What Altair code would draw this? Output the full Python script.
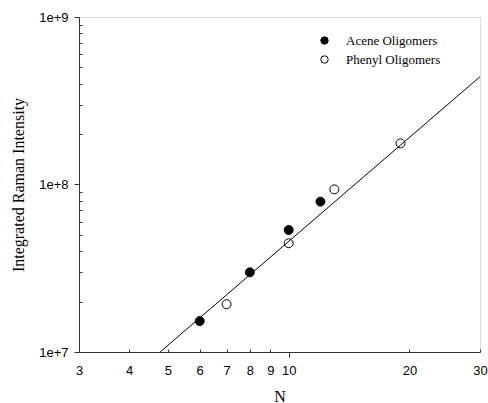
import altair as alt
import pandas as pd

# Data
acene_n = [6, 8, 10, 12]
acene_i = [1.53e7, 2.99e7, 5.35e7, 7.9e7]
phenyl_n = [7, 10, 13, 19]
phenyl_i = [1.93e7, 4.46e7, 9.35e7, 1.76e8]
fit_n = [4.78, 30]
fit_i = [1.0e7, 4.4e8]

series = ["Acene Oligomers", "Phenyl Oligomers"]
x_tick_values = [3, 4, 5, 6, 7, 8, 9, 10, 20, 30]
y_major_values = [1e7, 1e8, 1e9]
y_minor_values = [m * 10 ** e for e in (7, 8) for m in range(2, 10)]
y_tick_values = sorted(y_major_values + y_minor_values)

pts = pd.DataFrame({
    "N": acene_n + phenyl_n,
    "I": acene_i + phenyl_i,
    "series": [series[0]] * len(acene_n) + [series[1]] * len(phenyl_n),
})
fit = pd.DataFrame({"N": fit_n, "I": fit_i})

AX = "#333333"
PLOT_W, PLOT_H = 401, 335
xscale = alt.Scale(type="log", domain=[3, 30], nice=False)
yscale = alt.Scale(type="log", domain=[1e7, 1e9], nice=False)

is_major_y = "abs(log(datum.value) / LN10 - round(log(datum.value) / LN10)) < 1e-6"
is_major_x = "abs(datum.value - 10) < 1e-6"

# minor ticks pointing inward are drawn as short dashes of the grid lines
x_axis = alt.Axis(
    orient="bottom", values=x_tick_values, tickSize=5, tickWidth=1, title="N",
    labelExpr="format(datum.value, 'd')", labelFlush=False,
    tickOpacity={"condition": {"test": is_major_x, "value": 1}, "value": 0},
    grid=True, gridDash=[3, PLOT_H - 3], gridDashOffset=3, gridColor=AX, gridWidth=1,
    gridOpacity={"condition": {"test": is_major_x, "value": 0}, "value": 1},
    domainColor=AX, tickColor=AX, labelFont="Liberation Sans", labelFontSize=13,
    labelColor="black", labelPadding=7, titleFont="Liberation Serif",
    titleFontSize=16, titleFontWeight="normal", titleColor="black", titlePadding=11)

y_axis = alt.Axis(
    orient="left", values=y_tick_values, tickSize=5, tickWidth=1,
    title="Integrated Raman Intensity",
    labelExpr=f"({is_major_y}) ? '1e+' + round(log(datum.value) / LN10) : ''",
    tickOpacity={"condition": {"test": is_major_y, "value": 1}, "value": 0},
    grid=True, gridDash=[3, 1000], gridColor=AX, gridWidth=1,
    gridOpacity={"condition": {"test": is_major_y, "value": 0}, "value": 1},
    domainColor=AX, tickColor=AX, labelFont="Liberation Sans", labelFontSize=13,
    labelColor="black", labelPadding=6, titleFont="Liberation Serif",
    titleFontSize=16, titleFontWeight="normal", titleColor="black", titlePadding=12)

line = alt.Chart(fit).mark_line(color="black", strokeWidth=1, clip=True).encode(
    x=alt.X("N:Q", scale=xscale, axis=x_axis),
    y=alt.Y("I:Q", scale=yscale, axis=y_axis),
)

points = alt.Chart(pts).mark_point(
    filled=True, shape="circle", size=80, stroke="black", strokeWidth=1, opacity=1
).encode(
    x=alt.X("N:Q", scale=xscale, axis=x_axis),
    y=alt.Y("I:Q", scale=yscale, axis=y_axis),
    fill=alt.Fill("series:N", scale=alt.Scale(domain=series, range=["black", "transparent"]),
                  legend=alt.Legend(
                      title=None, orient="none", legendX=239, legendY=17,
                      symbolType="circle", symbolSize=55, symbolStrokeColor="black",
                      symbolStrokeWidth=1, labelFont="Liberation Serif", labelFontSize=13,
                      labelColor="black", labelOffset=15, rowPadding=5, padding=0)),
)

chart = alt.layer(line, points).properties(
    width=PLOT_W, height=PLOT_H,
    autosize=alt.AutoSizeParams(type="none"),
    padding={"left": 79, "top": 17, "right": 8, "bottom": 51},
).configure_view(stroke=AX, strokeWidth=1).configure(background="white")

chart.save("out.html", embed_options={"renderer": "svg", "actions": False})
